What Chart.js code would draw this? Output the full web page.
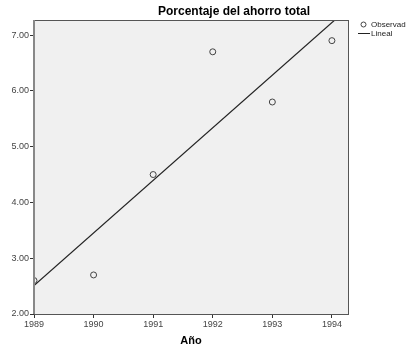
<!DOCTYPE html>
<html>
<head>
<meta charset="utf-8">
<script src="https://cdn.jsdelivr.net/npm/chart.js@4"></script>
<style>
  html, body { margin: 0; padding: 0; background: #fff; }
  #wrap { width: 406px; height: 347px; position: relative; }
</style>
</head>
<body>
<div id="wrap"><canvas id="chart"></canvas></div>
<script>
const years = [1989, 1990, 1991, 1992, 1993, 1994];
const savings = [2.6, 2.7, 4.5, 6.7, 5.8, 6.9];
const xTicks = [1989, 1990, 1991, 1992, 1993, 1994];
const yTicks = [2, 3, 4, 5, 6, 7];

const FONT = 'Arial, "Liberation Sans", sans-serif';

// least squares fit for the "Lineal" line
const n = years.length;
const mx = years.reduce((a, b) => a + b, 0) / n;
const my = savings.reduce((a, b) => a + b, 0) / n;
let sxy = 0, sxx = 0;
years.forEach((x, i) => {
  sxy += (x - mx) * (savings[i] - my);
  sxx += (x - mx) * (x - mx);
});
const slope = sxy / sxx;
const intercept = my - slope * mx;
const xMin = 1989, xMax = 1994.27;
const fitLine = [xMin, xMax].map((x) => ({ x: x, y: intercept + slope * x }));

const frame = {
  id: "frame",
  beforeDatasetsDraw(chart) {
    const { ctx, chartArea: a } = chart;
    ctx.save();
    ctx.fillStyle = "#f0f0f0";
    ctx.fillRect(a.left, a.top, a.right - a.left, a.bottom - a.top);
    ctx.restore();
  },
  afterDraw(chart) {
    const { ctx, chartArea: a } = chart;
    ctx.save();
    ctx.strokeStyle = "#555";
    ctx.lineWidth = 1;
    ctx.strokeRect(a.left + 0.5, a.top + 0.5, a.right - a.left, a.bottom - a.top);
    ctx.strokeStyle = "#888";
    ctx.lineWidth = 2;
    ctx.beginPath();
    ctx.moveTo(a.left, a.top);
    ctx.lineTo(a.left, a.bottom);
    ctx.stroke();

    // title
    ctx.fillStyle = "#000";
    ctx.font = "bold 12px " + FONT;
    ctx.textAlign = "center";
    ctx.textBaseline = "middle";
    ctx.fillText("Porcentaje del ahorro total", 234, 12);

    // axis title
    ctx.font = "bold 11px " + FONT;
    ctx.fillText("Año", 191, 341);

    // legend
    ctx.font = "8px " + FONT;
    ctx.textAlign = "left";
    ctx.fillStyle = "#222";
    ctx.fillText("Observad", 371, 25);
    ctx.fillText("Lineal", 371, 33.5);
    ctx.strokeStyle = "#444";
    ctx.lineWidth = 1;
    ctx.beginPath();
    ctx.arc(363.5, 24.5, 2.5, 0, Math.PI * 2);
    ctx.stroke();
    ctx.strokeStyle = "#222";
    ctx.beginPath();
    ctx.moveTo(358, 33.5);
    ctx.lineTo(370, 33.5);
    ctx.stroke();
    ctx.restore();
  },
};

new Chart(document.getElementById("chart"), {
  type: "scatter",
  data: {
    datasets: [
      {
        label: "Observad",
        data: years.map((y, i) => ({ x: y, y: savings[i] })),
        pointRadius: 3,
        pointBorderWidth: 1,
        pointBorderColor: "#444",
        pointBackgroundColor: "rgba(0,0,0,0)",
        showLine: false,
      },
      {
        label: "Lineal",
        data: fitLine,
        showLine: true,
        borderColor: "#222",
        borderWidth: 1.2,
        pointRadius: 0,
      },
    ],
  },
  options: {
    responsive: true,
    maintainAspectRatio: false,
    animation: false,
    layout: { padding: { top: 20, right: 58, left: 0, bottom: 0 } },
    plugins: {
      legend: { display: false },
      tooltip: { enabled: false },
    },
    scales: {
      x: {
        type: "linear",
        min: xMin,
        max: xMax,
        afterBuildTicks: (scale) => {
          scale.ticks = xTicks.map((v) => ({ value: v }));
        },
        afterFit: (scale) => {
          scale.height = 33;
        },
        grid: { drawOnChartArea: false, tickLength: 4, color: "#333" },
        border: { color: "#555" },
        ticks: {
          font: { family: FONT, size: 9 },
          color: "#444",
          padding: 1,
          maxRotation: 0,
          callback: (v) => String(v),
        },
      },
      y: {
        min: 2,
        max: 7.27,
        afterBuildTicks: (scale) => {
          scale.ticks = yTicks.map((v) => ({ value: v }));
        },
        afterFit: (scale) => {
          scale.width = 34;
        },
        grid: { drawOnChartArea: false, tickLength: 4, color: "#333" },
        border: { color: "#888" },
        ticks: {
          font: { family: FONT, size: 9 },
          color: "#444",
          padding: 1,
          callback: (v) => Number(v).toFixed(2),
        },
      },
    },
  },
  plugins: [frame],
});
</script>
</body>
</html>
